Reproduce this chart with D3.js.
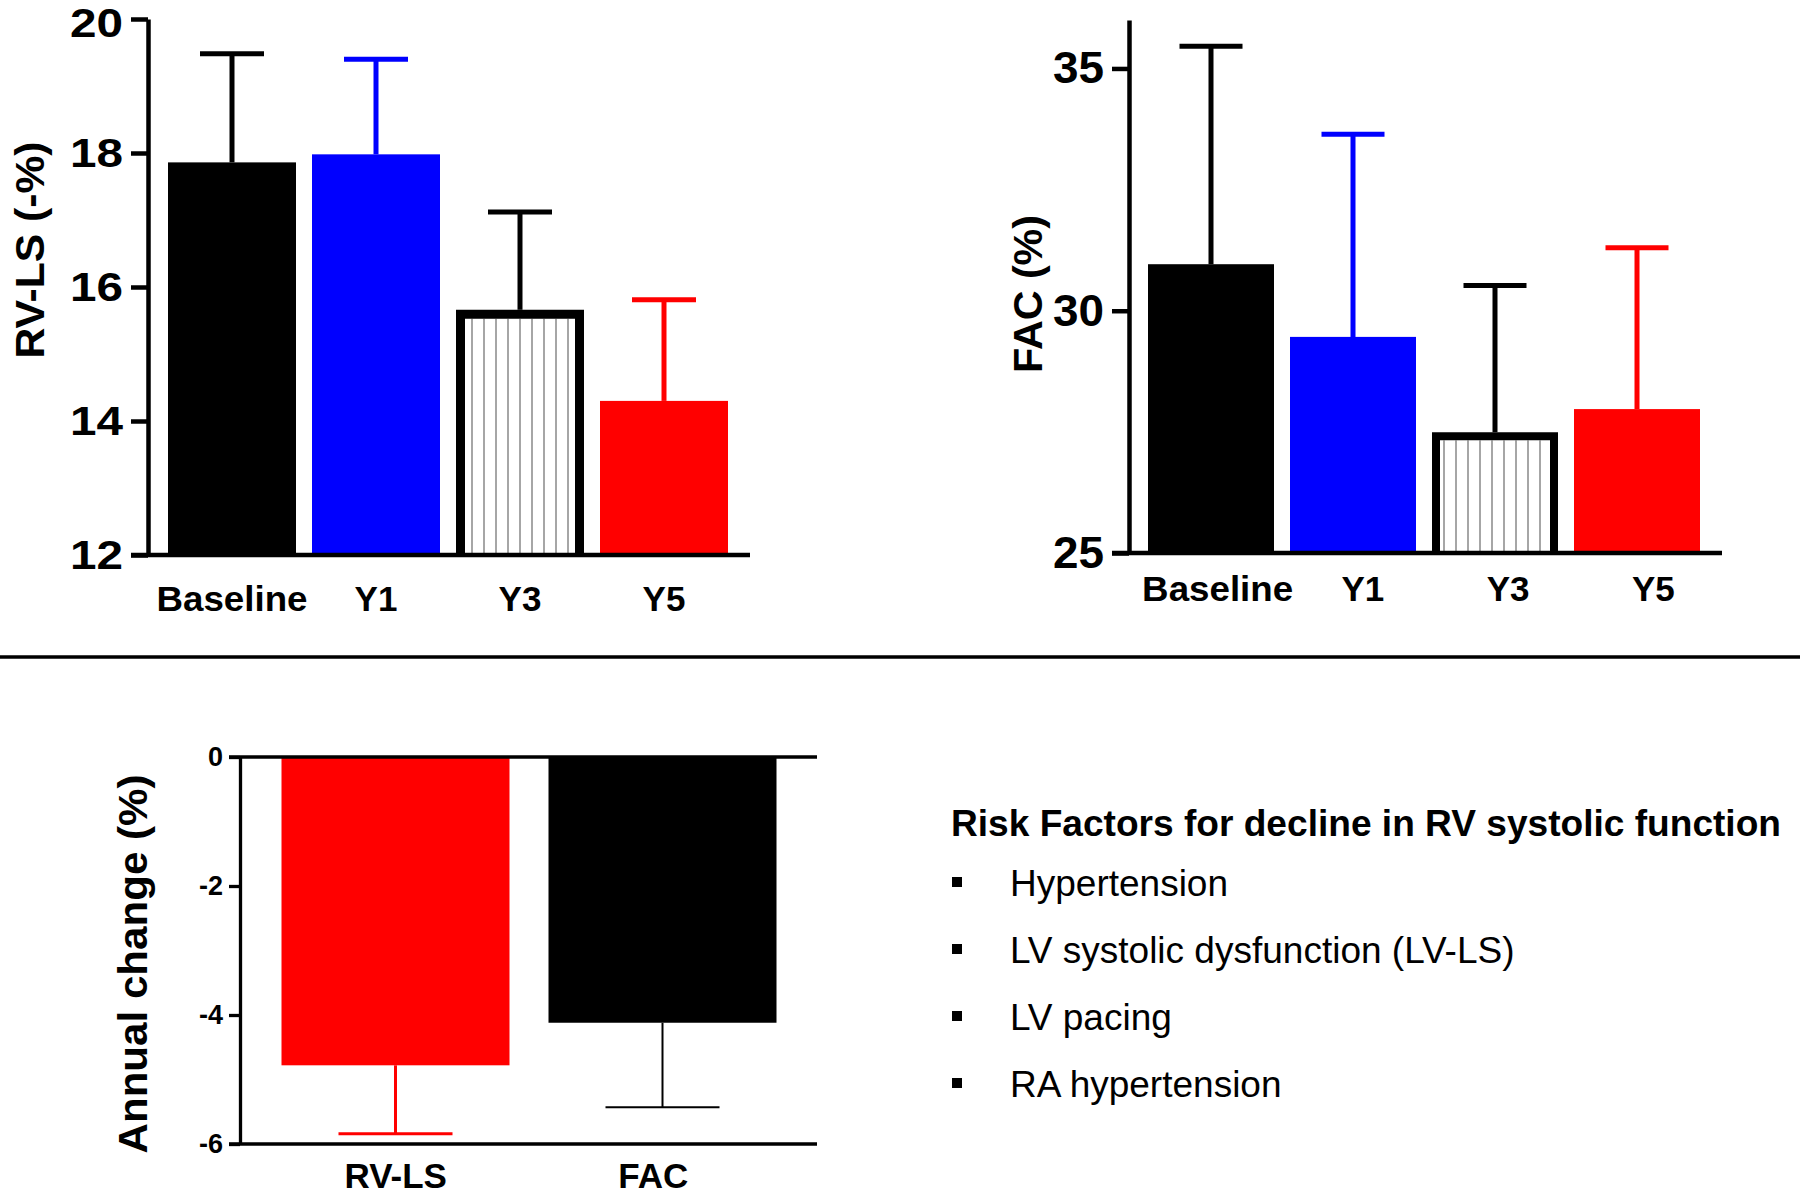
<!DOCTYPE html>
<html><head><meta charset="utf-8">
<script src="https://cdn.jsdelivr.net/npm/d3@7"></script>
<style>body{margin:0;background:#fff} svg{display:block} text{font-family:"Liberation Sans",Arial,sans-serif}</style>
</head><body><svg id="c" width="1800" height="1196"></svg>
<script>
// ---- data ----
const timepoints = ["Baseline", "Y1", "Y3", "Y5"];
const rvlsMean = [17.86, 17.98, 15.66, 14.30];
const rvlsUpper = [19.48, 19.40, 17.12, 15.81];
const rvlsTicks = [12, 14, 16, 18, 20];
const facMean = [30.96, 29.46, 27.49, 27.97];
const facUpper = [35.46, 33.64, 30.52, 31.30];
const facTicks = [25, 30, 35];
const barFills = ["#000000", "#0000ff", "hatch", "#ff0000"];
const errColors = ["#000000", "#0000ff", "#000000", "#ff0000"];
const changeCats = ["RV-LS", "FAC"];
const changeMean = [-4.78, -4.12];
const changeLower = [-5.84, -5.43];
const changeTicks = [0, -2, -4, -6];
const changeColors = ["#ff0000", "#000000"];
const riskTitle = "Risk Factors for decline in RV systolic function";
const riskFactors = ["Hypertension", "LV systolic dysfunction (LV-LS)", "LV pacing", "RA hypertension"];

const FONT = "Liberation Sans, Arial, sans-serif";
const svg = d3.select("#c");
const defs = svg.append("defs");
defs.append("pattern").attr("id", "vhatch").attr("patternUnits", "userSpaceOnUse")
  .attr("width", 12).attr("height", 12)
  .append("line").attr("x1", 4).attr("x2", 4).attr("y1", 0).attr("y2", 12)
  .attr("stroke", "#808080").attr("stroke-width", 1.4);

function topPanel(cfg) {
  const g = svg.append("g");
  const y = d3.scaleLinear().domain(cfg.domain).range([cfg.yBottom, cfg.yTop]);
  const x = d3.scaleBand().domain(timepoints).range(cfg.xRange)
    .paddingInner(cfg.pi).paddingOuter(cfg.po);
  const bot = y(cfg.domain[0]);
  timepoints.forEach((t, i) => {
    const x0 = x(t), w = x.bandwidth(), top = y(cfg.mean[i]);
    if (barFills[i] === "hatch") {
      const sw = cfg.hatchStroke;
      g.append("rect").attr("x", x0 + sw).attr("y", top + sw)
        .attr("width", w - 2 * sw).attr("height", bot - top - sw)
        .attr("fill", "url(#vhatch)");
      g.append("path")
        .attr("d", `M${x0 + sw / 2},${bot} L${x0 + sw / 2},${top + sw / 2} L${x0 + w - sw / 2},${top + sw / 2} L${x0 + w - sw / 2},${bot}`)
        .attr("fill", "none").attr("stroke", "#000").attr("stroke-width", sw);
    } else {
      g.append("rect").attr("x", x0).attr("y", top).attr("width", w)
        .attr("height", bot - top).attr("fill", barFills[i]);
    }
    const cx = x0 + w / 2, capW = w * 0.5, yu = y(cfg.upper[i]);
    g.append("line").attr("x1", cx).attr("x2", cx).attr("y1", top).attr("y2", yu)
      .attr("stroke", errColors[i]).attr("stroke-width", 5);
    g.append("line").attr("x1", cx - capW / 2).attr("x2", cx + capW / 2).attr("y1", yu).attr("y2", yu)
      .attr("stroke", errColors[i]).attr("stroke-width", 5);
  });
  const ya = g.append("g").attr("transform", `translate(${cfg.axisX},0)`)
    .call(d3.axisLeft(y).tickValues(cfg.ticks).tickSize(17).tickSizeOuter(0).tickPadding(8).tickFormat(d => String(d)));
  ya.selectAll("path,line").attr("stroke", "#000").attr("stroke-width", 4.5);
  ya.selectAll("text").attr("font-size", cfg.tickFont).attr("font-weight", "bold")
    .attr("fill", "#000").attr("font-family", FONT)
    .attr("textLength", cfg.tickLen).attr("lengthAdjust", "spacingAndGlyphs");
  ya.selectAll("text").filter(d => y(d) < 30).attr("dy", "0.42em");
  g.append("line").attr("x1", cfg.axisX - 17).attr("x2", cfg.xEnd).attr("y1", bot).attr("y2", bot)
    .attr("stroke", "#000").attr("stroke-width", 4.5);
  const xl = d3.scaleBand().domain(timepoints).range(cfg.labelRange);
  const xa = g.append("g").attr("transform", `translate(0,${cfg.labelY})`)
    .call(d3.axisBottom(xl).tickSize(0).tickPadding(0));
  xa.select(".domain").remove();
  xa.selectAll("text").attr("dy", 0).attr("font-size", 35).attr("font-weight", "bold")
    .attr("fill", "#000").attr("font-family", FONT);
  xa.selectAll("text").filter(d => d === "Baseline")
    .attr("textLength", 151).attr("lengthAdjust", "spacingAndGlyphs");
  g.append("text").attr("transform", `translate(${cfg.titleX},${cfg.titleY}) rotate(-90)`)
    .attr("text-anchor", "middle").attr("font-size", 40).attr("font-weight", "bold")
    .attr("textLength", cfg.titleLen).attr("lengthAdjust", "spacingAndGlyphs")
    .text(cfg.title);
}

topPanel({
  domain: [12, 20], yBottom: 555, yTop: 19, xRange: [160, 736], pi: 1 / 9, po: 1 / 18,
  mean: rvlsMean, upper: rvlsUpper, ticks: rvlsTicks, axisX: 148, xEnd: 750,
  hatchStroke: 9, tickFont: 41, tickLen: 53, labelRange: [160, 736], labelY: 611,
  title: "RV-LS (-%)", titleX: 44, titleY: 250, titleLen: 217
});
topPanel({
  domain: [25, 36], yBottom: 553, yTop: 20, xRange: [1140, 1708], pi: 16 / 142, po: 8 / 142,
  mean: facMean, upper: facUpper, ticks: facTicks, axisX: 1129, xEnd: 1722,
  hatchStroke: 8, tickFont: 45, tickLen: 51, labelRange: [1145, 1726], labelY: 601,
  title: "FAC (%)", titleX: 1042, titleY: 294, titleLen: 158
});

svg.append("line").attr("x1", 0).attr("x2", 1800).attr("y1", 657).attr("y2", 657)
  .attr("stroke", "#000").attr("stroke-width", 3.5);

(function () {
  const g = svg.append("g");
  const y = d3.scaleLinear().domain([-6, 0]).range([1144, 757]);
  const x = d3.scaleBand().domain(changeCats).range([262, 796]).paddingInner(39 / 267).paddingOuter(19.5 / 267);
  changeCats.forEach((c, i) => {
    const x0 = x(c), w = x.bandwidth();
    g.append("rect").attr("x", x0).attr("y", y(0)).attr("width", w)
      .attr("height", y(changeMean[i]) - y(0)).attr("fill", changeColors[i]);
    const cx = x0 + w / 2, capW = w * 0.5, sw = i === 0 ? 3 : 2;
    g.append("line").attr("x1", cx).attr("x2", cx).attr("y1", y(changeMean[i])).attr("y2", y(changeLower[i]))
      .attr("stroke", changeColors[i]).attr("stroke-width", sw);
    g.append("line").attr("x1", cx - capW / 2).attr("x2", cx + capW / 2)
      .attr("y1", y(changeLower[i])).attr("y2", y(changeLower[i]))
      .attr("stroke", changeColors[i]).attr("stroke-width", sw);
  });
  [0, -6].forEach(v => {
    g.append("line").attr("x1", 229).attr("x2", 817).attr("y1", y(v)).attr("y2", y(v))
      .attr("stroke", "#000").attr("stroke-width", 3.3);
  });
  const ya = g.append("g").attr("transform", "translate(240,0)")
    .call(d3.axisLeft(y).tickValues(changeTicks).tickSize(11).tickSizeOuter(0).tickPadding(6).tickFormat(d => String(d)));
  ya.selectAll("path,line").attr("stroke", "#000").attr("stroke-width", 3.3);
  ya.selectAll("text").attr("font-size", 27).attr("font-weight", "bold").attr("fill", "#000")
    .attr("font-family", FONT);
  const xl = d3.scaleBand().domain(changeCats).range([267, 782]);
  const xa = g.append("g").attr("transform", "translate(0,1188)")
    .call(d3.axisBottom(xl).tickSize(0).tickPadding(0));
  xa.select(".domain").remove();
  xa.selectAll("text").attr("dy", 0).attr("font-size", 35).attr("font-weight", "bold")
    .attr("fill", "#000").attr("font-family", FONT);
  g.append("text").attr("transform", "translate(147,964) rotate(-90)")
    .attr("text-anchor", "middle").attr("font-size", 40).attr("font-weight", "bold")
    .attr("textLength", 379).attr("lengthAdjust", "spacingAndGlyphs")
    .text("Annual change (%)");
})();

(function () {
  const g = svg.append("g");
  g.append("text").attr("x", 951).attr("y", 836).attr("font-size", 36).attr("font-weight", "bold")
    .attr("textLength", 830).attr("lengthAdjust", "spacingAndGlyphs").text(riskTitle);
  const yb = d3.scalePoint().domain(riskFactors).range([896, 1097]);
  riskFactors.forEach(r => {
    g.append("rect").attr("x", 952).attr("y", yb(r) - 19).attr("width", 10).attr("height", 10).attr("fill", "#000");
    g.append("text").attr("x", 1010).attr("y", yb(r)).attr("font-size", 37).text(r);
  });
})();
</script></body></html>
